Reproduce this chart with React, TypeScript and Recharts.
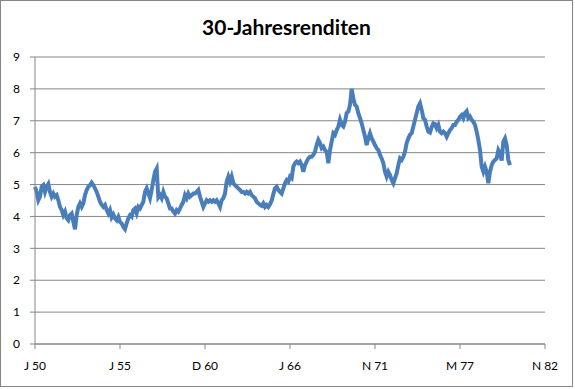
import { CartesianGrid, Line, LineChart, XAxis, YAxis } from 'recharts';

// x-axis: sample index, one label every 51 samples
const tickIndex = [0, 51, 102, 153, 204, 255, 306];
const tickLabels = ['J 50', 'J 55', 'D 60', 'J 66', 'N 71', 'M 77', 'N 82'];
const yTicks = [0, 1, 2, 3, 4, 5, 6, 7, 8, 9];

// 30-year yields at equal steps
const yields = [
  4.93, 4.77, 4.51, 4.62, 4.93, 4.98, 4.77, 4.93, 5.02, 4.77,
  4.62, 4.72, 4.62, 4.67, 4.51, 4.3, 4.2, 4.04, 4.15, 3.94,
  3.88, 4.04, 4.09, 3.83, 3.6, 4.04, 4.3, 4.41, 4.3, 4.41,
  4.67, 4.83, 4.93, 4.98, 5.06, 4.98, 4.88, 4.77, 4.62, 4.46,
  4.36, 4.3, 4.36, 4.2, 4.09, 4.2, 3.97, 4.06, 3.94, 3.88,
  3.99, 3.83, 3.78, 3.67, 3.6, 3.78, 3.94, 4.04, 3.99, 4.2,
  4.25, 4.1, 4.3, 4.25, 4.36, 4.46, 4.77, 4.88, 4.72, 4.57,
  4.83, 5.14, 5.4, 5.5, 4.6, 4.67, 4.57, 4.77, 4.62, 4.57,
  4.41, 4.25, 4.25, 4.15, 4.09, 4.2, 4.15, 4.25, 4.36, 4.46,
  4.67, 4.57, 4.72, 4.62, 4.67, 4.72, 4.72, 4.77, 4.83, 4.62,
  4.46, 4.3, 4.41, 4.51, 4.46, 4.51, 4.46, 4.51, 4.46, 4.51,
  4.41, 4.3, 4.51, 4.57, 4.72, 5.09, 5.25, 5.09, 5.25, 5.04,
  4.98, 4.93, 4.88, 4.83, 4.77, 4.77, 4.72, 4.77, 4.72, 4.77,
  4.67, 4.62, 4.57, 4.46, 4.41, 4.36, 4.33, 4.41, 4.3, 4.36,
  4.3, 4.38, 4.5, 4.7, 4.88, 4.93, 4.83, 4.77, 4.72, 4.88,
  5.04, 5.14, 5.09, 5.25, 5.2, 5.56, 5.67, 5.72, 5.67, 5.72,
  5.61, 5.4, 5.61, 5.72, 5.82, 5.87, 5.87, 5.93, 6.03, 6.24,
  6.4, 6.3, 6.14, 6.19, 6.08, 6.03, 5.67, 6.08, 6.35, 6.61,
  6.56, 6.71, 6.82, 7.03, 6.87, 6.82, 6.97, 7.24, 7.29, 7.5,
  8.0, 7.7, 7.5, 7.45, 7.24, 7.08, 6.92, 6.71, 6.5, 6.24,
  6.45, 6.61, 6.45, 6.35, 6.24, 6.14, 6.08, 5.93, 5.82, 5.67,
  5.4, 5.25, 5.4, 5.3, 5.14, 5.04, 5.2, 5.35, 5.61, 5.82,
  5.77, 5.87, 6.03, 6.3, 6.45, 6.56, 6.61, 6.82, 7.03, 7.24,
  7.45, 7.55, 7.34, 7.08, 7.03, 6.82, 6.66, 6.63, 6.8, 6.92,
  6.9, 6.77, 6.87, 6.66, 6.61, 6.66, 6.61, 6.5, 6.61, 6.71,
  6.77, 6.87, 6.87, 6.97, 7.03, 7.13, 7.18, 7.08, 7.24, 7.3,
  7.08, 7.13, 7.03, 6.97, 6.87, 6.66, 6.4, 6.08, 5.56, 5.4,
  5.56, 5.4, 5.04, 5.4, 5.61, 5.72, 5.77, 5.82, 6.08, 5.98,
  5.75, 6.35, 6.45, 6.24, 5.77, 5.61,
];

const data = yields.map((v, i) => ({ i, v }));

const GRID = '#868686';
const FONT = "Lato, 'Open Sans', sans-serif";

export default function App() {
  return (
    <div style={{ position: 'relative', width: 575, height: 389, background: '#fff' }}>
      <style>{'body{margin:0}'}</style>
      <div
        style={{
          position: 'absolute',
          left: 0,
          top: 14,
          width: 573,
          textAlign: 'center',
          fontFamily: FONT,
          fontWeight: 700,
          fontSize: 21,
          color: '#000',
        }}
      >
        30-Jahresrenditen
      </div>
      <LineChart
        width={575}
        height={389}
        data={data}
        margin={{ top: 57, right: 30, bottom: 15, left: 0 }}
      >
        <CartesianGrid stroke={GRID} vertical={false} />
        <XAxis
          dataKey="i"
          type="number"
          domain={[0, 306]}
          ticks={tickIndex}
          tickFormatter={(i) => tickLabels[tickIndex.indexOf(i)] ?? ''}
          tick={{ fill: '#000', fontSize: 12, fontFamily: FONT }}
          axisLine={{ stroke: GRID }}
          tickLine={{ stroke: GRID }}
          tickSize={5}
          tickMargin={12}
          height={30}
        />
        <YAxis
          domain={[0, 9]}
          ticks={yTicks}
          tick={{ fill: '#000', fontSize: 12, fontFamily: FONT }}
          axisLine={{ stroke: GRID }}
          tickLine={{ stroke: GRID }}
          tickSize={5}
          tickMargin={10}
          width={35}
        />
        <Line
          dataKey="v"
          stroke="#4A7EBB"
          strokeWidth={4}
          dot={false}
          isAnimationActive={false}
        />
      </LineChart>
      <div
        style={{
          position: 'absolute',
          left: 0,
          top: 0,
          width: 573,
          height: 387,
          border: `1px solid ${GRID}`,
          boxSizing: 'border-box',
          pointerEvents: 'none',
        }}
      />
    </div>
  );
}
